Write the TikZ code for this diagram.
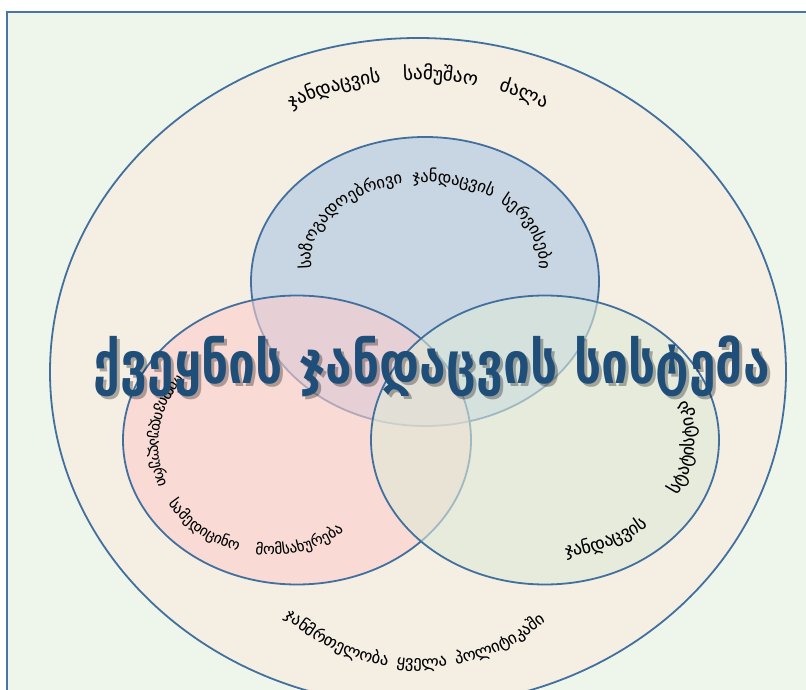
\documentclass[tikz,border=0pt]{standalone}
\usepackage{fontspec}
\setmainfont{DejaVu Sans}
\usepackage{tikz}
\usetikzlibrary{decorations.text}
\definecolor{framefill}{HTML}{EEF6EC}
\definecolor{frameline}{HTML}{4A74A5}
\definecolor{ringline}{HTML}{41709F}
\definecolor{outerfill}{HTML}{F5EEE2}
\definecolor{topfill}{HTML}{AAC6E4}
\definecolor{leftfill}{HTML}{FCCDCC}
\definecolor{rightfill}{HTML}{DFE9D8}
\definecolor{titleblue}{HTML}{1F4E79}
\newcommand{\titlefont}{\bfseries\fontsize{48}{48}\selectfont}
\tikzset{
    ring/.style={draw=ringline, line width=1.8pt},
    bubble/.style={ring, fill=#1, fill opacity=0.6},
    arclabel/.style 2 args={
        decorate,
        decoration={
            text along path,
            text align={fit to path stretching spaces},
            text={|\fontsize{#1}{#1}\selectfont|#2}
        }
    },
}

\begin{document}
\begin{tikzpicture}[x=1pt,y=1pt]
        \useasboundingbox (0,0) rectangle (806,689);
        \clip (0,0) rectangle (806,689);
        \fill[white] (0,0) rectangle (806,689);
        \draw[frameline, line width=2.2pt, fill=framefill] (7,-20) rectangle (830,677);

        \coordinate (outerc) at (418,317);
        \coordinate (topc) at (425,407.5);
        \coordinate (leftc) at (297,249);
        \coordinate (rightc) at (545,249);
        \coordinate (upperarc) at (418,309); % centre of the workforce label
        \coordinate (toparc) at (425,427);
        \coordinate (leftarc) at (270,244);
        \coordinate (lowerarc) at (418,220);

        \draw[ring, fill=outerfill] (outerc) ellipse [x radius=368, y radius=334];
        \draw[bubble=topfill] (topc) ellipse [x radius=174, y radius=144.5];
        \draw[bubble=leftfill] (leftc) ellipse [x radius=174, y radius=144.5];
        \draw[bubble=rightfill] (rightc) ellipse [x radius=174, y radius=144.5];

        % shadow first, then the black text
        \foreach \off/\ink in {1.6/black!35, 0/black} {
        \begin{scope}[xshift=\off, yshift=-\off]
        \path[arclabel={19}{ჯანდაცვის სამუშაო ძალა}, decoration={text color=\ink}]
            ([shift={(115:300)}]upperarc) arc[start angle=115, end angle=65, radius=300];
        \path[arclabel={16.5}{საზოგადოებრივი ჯანდაცვის სერვისები}, decoration={text color=\ink}]
            ([shift={(185:114 and 80)}]toparc) arc[start angle=185, end angle=-5, x radius=114, y radius=80];
        \path[arclabel={15}{ინდივიდუალური სამედიცინო მომსახურება}, decoration={text color=\ink}]
            ([shift={(140:120 and 110)}]leftarc) arc[start angle=140, end angle=308, x radius=120, y radius=110];
        \path[arclabel={18}{ჯანდაცვის სტატისტიკა}, decoration={text color=\ink}]
            ([shift={(-82:150 and 118)}]rightc) arc[start angle=-82, end angle=20, x radius=150, y radius=118];
        \path[arclabel={16.5}{ჯანმრთელობა ყველა პოლიტიკაში}, decoration={text color=\ink}]
            ([shift={(228:199)}]lowerarc) arc[start angle=228, end angle=310, radius=199];
        \end{scope}
        }

        \node (titleshadow) [font=\titlefont, text=black, opacity=0.3, yscale=1.2, transform shape] at (435,320) {ქვეყნის ჯანდაცვის სისტემა};
        \node (title) [font=\titlefont, text=titleblue, yscale=1.2, transform shape] at (432,323) {ქვეყნის ჯანდაცვის სისტემა};
\end{tikzpicture}
\end{document}
